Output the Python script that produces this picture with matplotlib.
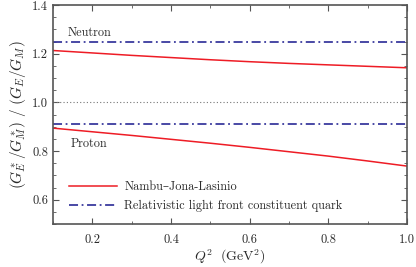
import matplotlib
matplotlib.use('Agg')
import matplotlib.pyplot as plt
from matplotlib.ticker import MultipleLocator

plt.rcParams['font.family'] = ['cmr10', 'DejaVu Serif']
plt.rcParams['mathtext.fontset'] = 'cm'
plt.rcParams['axes.formatter.use_mathtext'] = True

# Q^2 grid (GeV^2)
q2 = [0.1, 0.2, 0.3, 0.4, 0.5, 0.6, 0.7, 0.8, 0.9, 1.0]
# Nambu-Jona-Lasinio ratios
njl_neutron = [1.213, 1.203, 1.193, 1.184, 1.175, 1.167, 1.160, 1.154, 1.148, 1.142]
njl_proton = [0.894, 0.879, 0.864, 0.848, 0.832, 0.815, 0.797, 0.779, 0.759, 0.738]
# relativistic light front constituent quark (flat)
rlf_neutron = 1.25
rlf_proton = 0.91

red = '#ee1c25'
blue = '#3a3a9e'
frame = '#555555'
txt = '#2a2a2a'

fig = plt.figure(figsize=(4.16, 2.67), dpi=100)
ax = fig.add_axes([53/416, 1-224/267, (407-53)/416, (224-5)/267])

ax.axhline(1.0, color='#777777', lw=0.8, ls=(0, (1, 2)))
ax.plot(q2, njl_neutron, color=red, lw=1.1, label='Nambu\u2013Jona-Lasinio')
ax.plot(q2, njl_proton, color=red, lw=1.1)
ax.plot([q2[0], q2[-1]], [rlf_neutron]*2, color=blue, lw=1.3, ls=(0, (5, 2, 1, 2)),
        label='Relativistic light front constituent quark')
ax.plot([q2[0], q2[-1]], [rlf_proton]*2, color=blue, lw=1.3, ls=(0, (5, 2, 1, 2)))

ax.text(0.136, 1.287, 'Neutron', fontsize=8.8, va='center', color=txt)
ax.text(0.144, 0.831, 'Proton', fontsize=8.8, va='center', color=txt)

ax.set_xlim(0.1, 1.0)
ax.set_ylim(0.5, 1.4)
ax.xaxis.set_minor_locator(MultipleLocator(0.1))
ax.yaxis.set_minor_locator(MultipleLocator(0.05))
ax.set_xticks([0.2, 0.4, 0.6, 0.8, 1.0])
ax.set_yticks([0.6, 0.8, 1.0, 1.2, 1.4])
ax.set_xticklabels(['0.2', '0.4', '0.6', '0.8', '1.0'])
ax.set_yticklabels(['0.6', '0.8', '1.0', '1.2', '1.4'])
ax.tick_params(which='both', direction='in', top=True, right=True, color=frame,
               labelsize=9, labelcolor=txt)
ax.tick_params(which='major', length=4, width=0.8)
ax.tick_params(which='minor', length=2, width=0.6)
ax.tick_params(axis='x', pad=7)
for s in ax.spines.values():
    s.set_color(frame)
    s.set_linewidth(1.2)

ax.set_xlabel(r'$Q^2\ \ (\mathrm{GeV}^2)$', fontsize=10, color=txt, labelpad=1)
ax.set_ylabel(r'$(G_E^*/G_M^*)\ /\ (G_E/G_M)$', fontsize=11, color=txt, labelpad=3)

leg = ax.legend(loc='lower left', bbox_to_anchor=(0.015, 0.005), frameon=False, fontsize=8.8,
                handlelength=3.9, handletextpad=0.6, labelspacing=0.55, labelcolor=txt)

fig.savefig('out.png', dpi=100)
